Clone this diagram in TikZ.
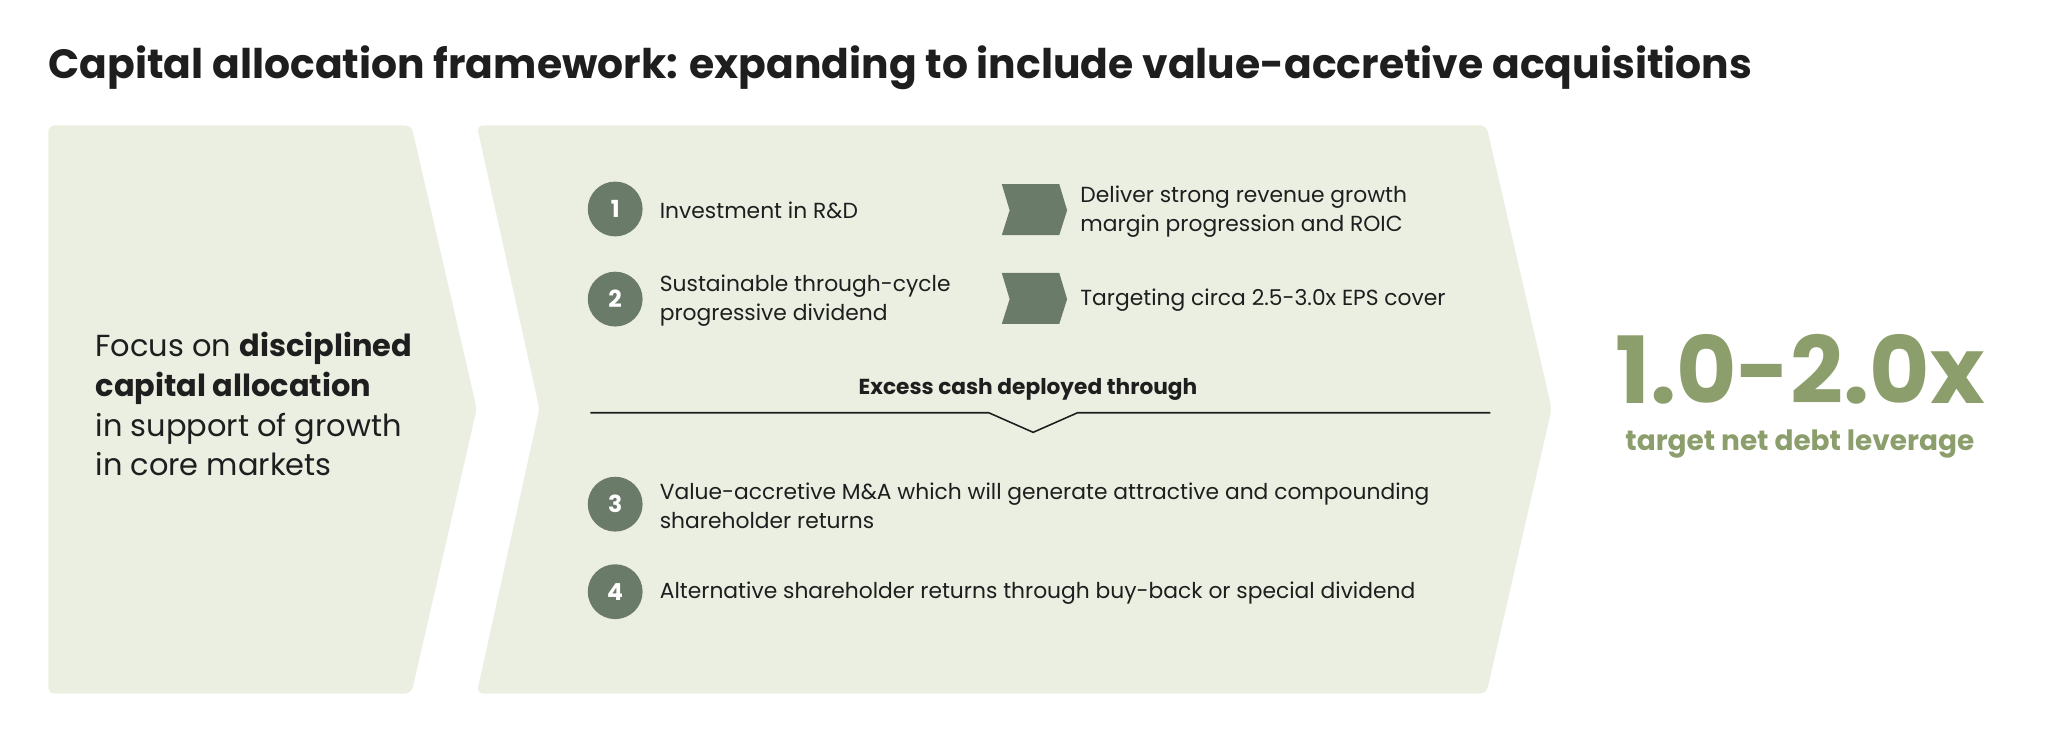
\documentclass[tikz,border=0pt]{standalone}
\usepackage{fontspec}
\setmainfont{Poppins}
\definecolor{bgc}{HTML}{EBEFE2}
\definecolor{dk}{HTML}{6B7B69}
\definecolor{gr}{HTML}{8B9E6B}
\definecolor{tx}{HTML}{1E1E1E}
\begin{document}
\begin{tikzpicture}[x=1pt,y=-1pt,
  num/.style={circle,fill=dk,minimum size=42pt,inner sep=0,text=white,font=\fontsize{18}{18}\selectfont\bfseries},
  item/.style={anchor=west,align=left,text=tx,font=\fontsize{16.7}{22}\selectfont,inner sep=0},
  tag/.style={fill=dk}]
\useasboundingbox (0,0) rectangle (1568,568);
\node[anchor=base west,inner sep=0,text=tx,font=\fontsize{31.3}{31}\selectfont\bfseries] (title) at (37,60) {Capital allocation framework: expanding to include value-accretive acquisitions};
\fill[bgc,rounded corners=5pt] (37,96) -- (315,96) -- (365,313) -- (315,531) -- (37,531) -- cycle;
\fill[bgc,rounded corners=5pt] (365,96) -- (1138,96) -- (1188,313) -- (1138,531) -- (365,531) -- (413,313) -- cycle;
\node[anchor=north west,align=left,inner sep=0,text=tx,font=\fontsize{23.3}{30.5}\selectfont] (focus) at (73,254) {Focus on \textbf{disciplined}\\\textbf{capital allocation}\\in support of growth\\in core markets};
\node[num] (n1) at (471,160) {1};
\node[num] (n2) at (471,229) {2};
\node[num] (n3) at (471,386) {3};
\node[num] (n4) at (471,453) {4};
\node[item] (t1) at (505,161) {Investment in R\&D};
\node[item] (t2) at (505,230) {Sustainable through-cycle\\progressive dividend};
\node[item] (t3) at (505,387) {Value-accretive M\&A which will generate attractive and compounding\\shareholder returns};
\node[item] (t4) at (505,454) {Alternative shareholder returns through buy-back or special dividend};
\fill[tag] (767,141) -- (811,141) -- (817,161) -- (811,180) -- (767,180) -- (773,161) -- cycle;
\fill[tag] (767,209) -- (811,209) -- (817,229) -- (811,248) -- (767,248) -- (773,229) -- cycle;
\node[item] (r1) at (827,162) {Deliver strong revenue growth\\margin progression and ROIC};
\node[item] (r2) at (827,230) {Targeting circa 2.5-3.0x EPS cover};
\node[text=tx,font=\fontsize{16.6}{16.6}\selectfont\bfseries,inner sep=0] (ex) at (787,298) {Excess cash deployed through};
\coordinate (la) at (452,316);
\coordinate (lb) at (1141,316);
\draw[tx,line width=1.2pt] (la) -- (757,316) -- (791,331) -- (825,316) -- (lb);
\node[text=gr,font=\fontsize{71}{71}\selectfont\bfseries,inner sep=0] (big) at (1378,283) {1.0-2.0x};
\node[text=gr,font=\fontsize{21.4}{21.4}\selectfont\bfseries,inner sep=0] (lev) at (1378,340) {target net debt leverage};
\end{tikzpicture}
\end{document}
